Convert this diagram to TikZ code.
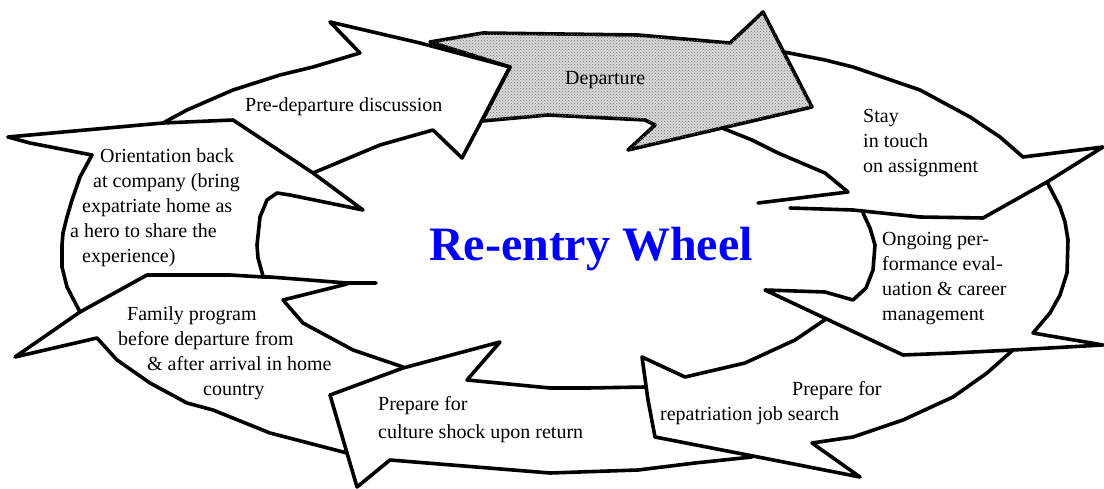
\documentclass[tikz,border=0pt]{standalone}
\usepackage{fontspec}
\setmainfont{Liberation Serif}
\usetikzlibrary{patterns}
\definecolor{wheelblue}{RGB}{0,0,255}
\tikzset{
  rim/.style   = {line width=3.6pt, line join=round, line cap=round},
  txt/.style   = {inner sep=0pt, align=left, anchor=west,
                  font=\fontsize{20}{25}\selectfont},
  shaded/.style = {fill=black!15, postaction={pattern=crosshatch dots, pattern color=black!55}},
}

\begin{document}
\begin{tikzpicture}[
    x=1pt, y=-1pt,
    title/.style={inner sep=0pt, anchor=base, text=wheelblue,
                  font=\fontsize{48}{50}\selectfont\bfseries}
]
\useasboundingbox (0,0) rectangle (1104,489);

% departure (shaded)
\draw[rim, shaded] (430,42) -- (483,33) -- (638,35) -- (730,43) -- (763,12) -- (812,107)
    -- (628,150) -- (655,125) -- (645,120) -- (548,115) -- (482,121) -- (510,67) -- cycle;

% pre-departure discussion
\draw[rim] (8,137) -- (163,123) -- (187,110) -- (233,90) -- (280,75) -- (313,67) -- (360,53)
    -- (330,22) -- (420,43) -- (510,67) -- (462,158) -- (433,130) -- (380,145) -- (313,173);

% orientation back at company
\draw[rim] (163,123) -- (233,120) -- (313,173) -- (363,210) -- (290,195) -- (277,193)
    -- (267,200) -- (260,217) -- (257,245) -- (258,258) -- (263,276);
\draw[rim] (8,137) -- (30,143) -- (92,155) -- (80,177) -- (72,200) -- (67,217) -- (63,233)
    -- (62,245) -- (62,267) -- (67,287) -- (80,312);

% family program
\draw[rim] (147,275) -- (230,275) -- (263,277) -- (270,277) -- (347,283) -- (376,283);
\draw[rim] (147,275) -- (80,312) -- (15,357) -- (97,338) -- (117,360) -- (150,383)
    -- (187,403) -- (213,410) -- (270,433) -- (347,453);
\draw[rim] (347,284) -- (283,300) -- (303,323) -- (353,350) -- (403,367);

% culture shock
\draw[rim] (330,395) -- (403,368) -- (500,342) -- (467,380) -- (550,388) -- (588,388) -- (645,387);
\draw[rim] (330,395) -- (357,487) -- (390,460) -- (550,473) -- (638,470) -- (695,463) -- (752,457);

% repatriation job search
\draw[rim] (826,319) -- (795,340) -- (745,363) -- (685,377) -- (642,357) -- (648,400)
    -- (655,437) -- (758,457) -- (860,477) -- (812,443) -- (853,437) -- (903,420)
    -- (953,397) -- (987,373) -- (1013,350);

% ongoing performance evaluation
\draw[rim] (863,213) -- (870,228) -- (875,245) -- (873,270) -- (866,288) -- (853,300)
    -- (825,292) -- (765,290) -- (903,355) -- (953,353) -- (1013,350) -- (1103,345)
    -- (1033,333) -- (1050,313) -- (1060,295) -- (1067,273) -- (1068,240) -- (1065,222)
    -- (1060,207) -- (1047,182);

% stay in touch
\draw[rim] (784,52) -- (825,60) -- (853,67) -- (920,90) -- (970,117) -- (1000,137)
    -- (1023,157) -- (1103,147) -- (1047,182) -- (983,218) -- (920,217) -- (853,210) -- (790,208);
\draw[rim] (722,128) -- (752,140) -- (778,153) -- (825,173) -- (848,192) -- (758,203);

\node[txt] (predep) at (245,107) {Pre-departure discussion};
\node[txt] (depart) at (565,80) {Departure};
\node[txt] (stay) at (863,143) {Stay\\in touch\\on assignment};
\node[txt] (ongoing) at (882,279) {Ongoing per-\\formance eval-\\uation \& career\\management};
\node[txt] (orient) at (70,208) {\hspace*{30pt}Orientation back\\\hspace*{23pt}at company (bring\\
  \hspace*{12pt}expatriate home as\\a hero to share the\\\hspace*{12pt}experience)};
\node[txt] (family) at (118,353) {\hspace*{9pt}Family program\\before departure from\\
  \hspace*{29pt}\& after arrival in home\\\hspace*{85pt}country};
\node[txt] (culture) at (378,420) {Prepare for\\[3pt]culture shock upon return};
\node[txt] (repat) at (660,403) {\hspace*{132pt}Prepare for\\repatriation job search};
\node[title] (wheel) at (591,261) {Re-entry Wheel};
\end{tikzpicture}
\end{document}
